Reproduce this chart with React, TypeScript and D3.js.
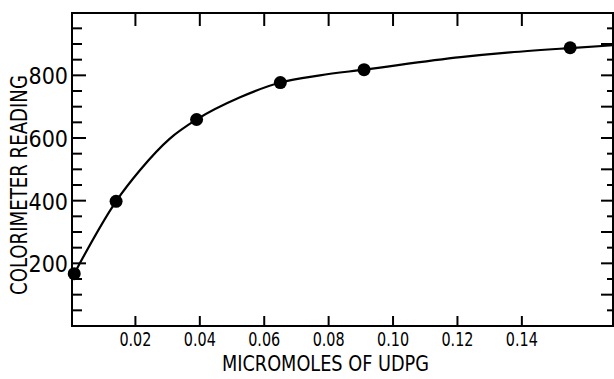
import React from "react";
import * as d3 from "d3";

// measured points (micromoles UDPG, colorimeter reading)
const doseX = [0.001, 0.014, 0.039, 0.065, 0.091, 0.155];
const readingY = [167, 398, 659, 777, 818, 888];

// hand-drawn fitted curve
const curveX = [0.001, 0.014, 0.0214, 0.0307, 0.039, 0.0525, 0.065, 0.0773, 0.091, 0.121, 0.1363, 0.155, 0.1683];
const curveY = [167, 398, 497, 598, 659, 730, 777, 800, 818, 858, 873, 887, 896];

const xTicks = [0.02, 0.04, 0.06, 0.08, 0.1, 0.12, 0.14];
const xTickLabels = ["0.02", "0.04", "0.06", "0.08", "0.10", "0.12", "0.14"];
const yTicks = [200, 400, 600, 800];

const W = 614;
const H = 379;
const left = 72;
const right = 613;
const top = 13;
const bottom = 326;

export default function App() {
  const x = d3.scaleLinear().domain([0, 0.1683]).range([left - 1, right]);
  const y = d3.scaleLinear().domain([0, 1000]).range([bottom, bottom - 1000 * (188 / 600)]);

  const pts = curveX.map((v, i) => [v, curveY[i]] as [number, number]);
  const line = d3
    .line<[number, number]>()
    .x(d => x(d[0]))
    .y(d => y(d[1]))
    .curve(d3.curveMonotoneX);

  const minor = d3.range(50, 1000, 50);
  const font = "'DejaVu Sans Condensed', 'DejaVu Sans', sans-serif";

  return (
    <svg
      width={W}
      height={H}
      style={{ position: "absolute", left: 0, top: 0, background: "#fff" }}
    >
      {/* frame */}
      <rect x={left} y={top} width={right - left} height={bottom - top} fill="none" stroke="#000" strokeWidth={2} />

      {/* left ticks (inward) */}
      {minor.map(v => (
        <line key={"l" + v} x1={left} x2={left + (v % 200 === 0 ? 14 : 10)} y1={y(v)} y2={y(v)} stroke="#000" strokeWidth={2} />
      ))}
      {/* right ticks (inward) */}
      {minor.map(v => (
        <line key={"r" + v} x1={right} x2={right - (v % 100 === 0 ? 12 : 6)} y1={y(v)} y2={y(v)} stroke="#000" strokeWidth={2} />
      ))}
      {/* bottom and top ticks */}
      {xTicks.map(v => (
        <g key={"x" + v}>
          <line x1={x(v)} x2={x(v)} y1={bottom} y2={bottom - 10} stroke="#000" strokeWidth={2} />
          <line x1={x(v)} x2={x(v)} y1={top} y2={top + 13} stroke="#000" strokeWidth={2} />
        </g>
      ))}

      {/* y tick labels */}
      {yTicks.map(v => (
        <text key={"yl" + v} x={68} y={y(v) + 9} textAnchor="end" fontFamily={font} fontSize={23} fill="#000">
          {v}
        </text>
      ))}
      {/* x tick labels */}
      {xTicks.map((v, i) => (
        <text
          key={"xl" + v}
          x={x(v) - 16}
          y={346}
          textLength={32}
          lengthAdjust="spacingAndGlyphs"
          fontFamily={font}
          fontSize={20}
          fill="#000"
        >
          {xTickLabels[i]}
        </text>
      ))}

      {/* axis titles */}
      <text x={222} y={371} textLength={207} lengthAdjust="spacingAndGlyphs" fontFamily={font} fontSize={21} fill="#000">
        MICROMOLES OF UDPG
      </text>
      <text
        transform="translate(27,295) rotate(-90)"
        textLength={220}
        lengthAdjust="spacingAndGlyphs"
        fontFamily={font}
        fontSize={23}
        fill="#000"
      >
        COLORIMETER READING
      </text>

      {/* fitted curve */}
      <path d={line(pts) ?? ""} fill="none" stroke="#000" strokeWidth={2.2} />

      {/* data points */}
      {doseX.map((v, i) => (
        <circle key={"p" + i} cx={x(v)} cy={y(readingY[i])} r={6.5} fill="#000" />
      ))}
    </svg>
  );
}
